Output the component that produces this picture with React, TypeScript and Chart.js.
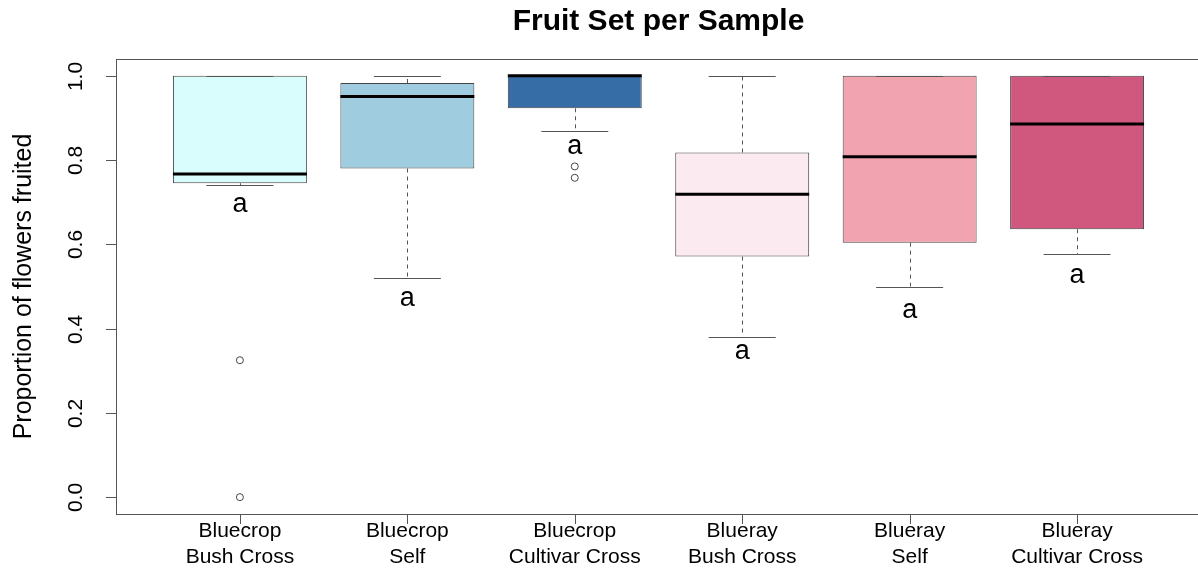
import React, { useEffect, useRef } from "react";
import { Chart, registerables } from "chart.js";

Chart.register(...registerables);

const FONT = "'Liberation Sans', Arial, Helvetica, sans-serif";

const chartTitle = "Fruit Set per Sample";
const yAxisTitle = "Proportion of flowers fruited";
const categories: string[][] = [
  ["Bluecrop", "Bush Cross"],
  ["Bluecrop", "Self"],
  ["Bluecrop", "Cultivar Cross"],
  ["Blueray", "Bush Cross"],
  ["Blueray", "Self"],
  ["Blueray", "Cultivar Cross"],
];
const whiskerLow = [0.741, 0.519, 0.869, 0.381, 0.5, 0.577];
const q1 = [0.745, 0.78, 0.923, 0.571, 0.604, 0.636];
const median = [0.767, 0.951, 1.0, 0.719, 0.808, 0.886];
const q3 = [1.0, 0.983, 1.0, 0.818, 1.0, 1.0];
const whiskerHigh = [1.0, 1.0, 1.0, 1.0, 1.0, 1.0];
const outliers: number[][] = [[0.325, 0.0], [], [0.785, 0.758], [], [], []];
const letters = ["a", "a", "a", "a", "a", "a"];
const letterY = [0.694, 0.472, 0.832, 0.346, 0.444, 0.527];
const boxColors = ["#D9FCFC", "#9FCDDF", "#366DA7", "#FBEAF0", "#F1A4B0", "#D0587E"];
const yTicks = [0, 0.2, 0.4, 0.6, 0.8, 1.0];
const yTickLabels = ["0.0", "0.2", "0.4", "0.6", "0.8", "1.0"];

const boxExtras = {
  id: "boxExtras",
  afterDatasetsDraw(chart: any) {
    const ctx = chart.ctx;
    const xs = chart.scales.x;
    const ys = chart.scales.y;
    const area = chart.chartArea;
    const meta = chart.getDatasetMeta(0);
    ctx.save();
    for (let i = 0; i < categories.length; i++) {
      const bar = meta.data[i];
      const xc = xs.getPixelForValue(i + 1);
      const w = bar ? bar.width : 134;
      const xl = Math.round(xc) + 0.5;
      // dashed whiskers
      ctx.strokeStyle = "#555555";
      ctx.lineWidth = 1;
      ctx.setLineDash([4, 4]);
      ctx.beginPath();
      ctx.moveTo(xl, ys.getPixelForValue(q3[i]));
      ctx.lineTo(xl, ys.getPixelForValue(whiskerHigh[i]));
      ctx.moveTo(xl, ys.getPixelForValue(q1[i]));
      ctx.lineTo(xl, ys.getPixelForValue(whiskerLow[i]));
      ctx.stroke();
      ctx.setLineDash([]);
      // caps
      ctx.beginPath();
      for (const v of [whiskerHigh[i], whiskerLow[i]]) {
        const py = Math.round(ys.getPixelForValue(v)) + 0.5;
        ctx.moveTo(xc - w / 4, py);
        ctx.lineTo(xc + w / 4, py);
      }
      ctx.stroke();
      // median
      ctx.strokeStyle = "#000000";
      ctx.lineWidth = 3;
      ctx.beginPath();
      const pm = ys.getPixelForValue(median[i]);
      ctx.moveTo(xc - w / 2, pm);
      ctx.lineTo(xc + w / 2, pm);
      ctx.stroke();
      // letters
      ctx.fillStyle = "#000000";
      ctx.font = `27px ${FONT}`;
      ctx.textAlign = "center";
      ctx.textBaseline = "middle";
      ctx.fillText(letters[i], xc, ys.getPixelForValue(letterY[i]));
    }
    // frame
    ctx.strokeStyle = "#555555";
    ctx.lineWidth = 1;
    ctx.strokeRect(
      Math.round(area.left) + 0.5,
      Math.round(area.top) + 0.5,
      Math.round(area.right - area.left),
      Math.round(area.bottom - area.top)
    );
    // x tick marks
    ctx.beginPath();
    for (let i = 0; i < categories.length; i++) {
      const px = Math.round(xs.getPixelForValue(i + 1)) + 0.5;
      ctx.moveTo(px, area.bottom);
      ctx.lineTo(px, area.bottom + 10);
    }
    ctx.stroke();
    // y ticks and labels
    ctx.font = `21px ${FONT}`;
    ctx.fillStyle = "#000000";
    for (let k = 0; k < yTicks.length; k++) {
      const py = Math.round(ys.getPixelForValue(yTicks[k])) + 0.5;
      ctx.beginPath();
      ctx.moveTo(area.left - 10, py);
      ctx.lineTo(area.left, py);
      ctx.stroke();
      ctx.save();
      ctx.translate(area.left - 34, py);
      ctx.rotate(-Math.PI / 2);
      ctx.textAlign = "center";
      ctx.textBaseline = "alphabetic";
      ctx.fillText(yTickLabels[k], 0, 0);
      ctx.restore();
    }
    ctx.restore();
  },
};

export default function App() {
  const ref = useRef<HTMLCanvasElement | null>(null);
  useEffect(() => {
    if (!ref.current) return;
    const chart = new Chart(ref.current, {
      type: "bar",
      data: {
        datasets: [
          {
            type: "bar",
            data: categories.map((_, i) => ({ x: i + 1, y: [q1[i], q3[i]] })) as any,
            backgroundColor: boxColors,
            borderColor: "#444444",
            borderWidth: 1,
            borderSkipped: false,
            barPercentage: 1,
            categoryPercentage: 0.8,
          } as any,
          {
            type: "scatter",
            data: outliers.flatMap((vals, i) => vals.map((v) => ({ x: i + 1, y: v }))) as any,
            pointStyle: "circle",
            pointRadius: 3.5,
            borderColor: "#444444",
            backgroundColor: "rgba(0,0,0,0)",
            borderWidth: 1,
          } as any,
        ],
      },
      options: {
        animation: false,
        responsive: false,
        maintainAspectRatio: false,
        layout: { padding: { left: 0, right: 9, top: 0, bottom: 0 } },
        plugins: {
          legend: { display: false },
          tooltip: { enabled: false },
          title: {
            display: true,
            text: chartTitle,
            fullSize: false,
            color: "#000000",
            font: { family: FONT, size: 30, weight: "bold" },
            padding: { top: 4, bottom: 19 },
          },
        },
        scales: {
          x: {
            type: "linear",
            min: 0.26,
            max: 6.74,
            offset: false,
            afterBuildTicks: (s: any) => {
              s.ticks = categories.map((_, i) => ({ value: i + 1 }));
            },
            afterFit: (s: any) => {
              s.height = 59;
            },
            ticks: {
              autoSkip: false,
              maxRotation: 0,
              minRotation: 0,
              padding: -6,
              color: "#000000",
              font: { family: FONT, size: 21, lineHeight: 1.24 },
              callback: (_v: any, idx: number) => categories[idx],
            },
            grid: {
              offset: false,
              display: true,
              drawOnChartArea: false,
              drawTicks: true,
              tickLength: 10,
              color: "rgba(0,0,0,0)",
            },
            border: { display: false },
          },
          y: {
            type: "linear",
            min: -0.04,
            max: 1.04,
            afterBuildTicks: (s: any) => {
              s.ticks = yTicks.map((v) => ({ value: v }));
            },
            afterFit: (s: any) => {
              s.width = 116;
            },
            ticks: { display: false },
            grid: { display: false },
            border: { display: false },
            title: {
              display: true,
              text: yAxisTitle,
              color: "#000000",
              font: { family: FONT, size: 25 },
              padding: { top: 9, bottom: 0 },
            },
          },
        },
      } as any,
      plugins: [boxExtras],
    });
    return () => chart.destroy();
  }, []);

  return (
    <div
      style={{
        position: "fixed",
        left: 0,
        top: 0,
        width: 1198,
        height: 573,
        overflow: "hidden",
        background: "#ffffff",
      }}
    >
      <canvas ref={ref} width={1210} height={573} style={{ display: "block" }} />
    </div>
  );
}
